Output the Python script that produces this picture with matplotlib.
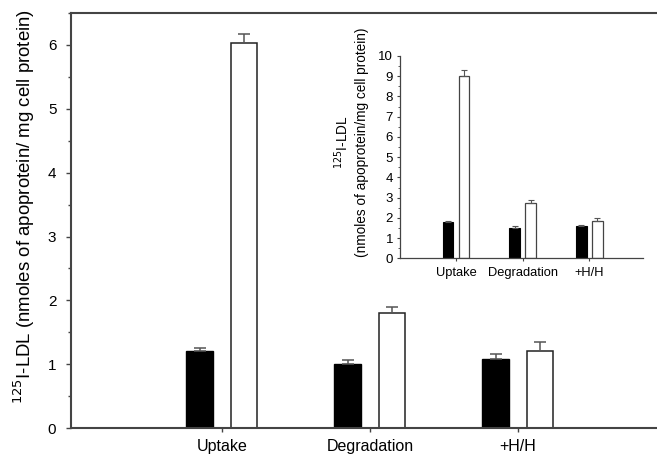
import matplotlib
matplotlib.use('Agg')
import matplotlib.pyplot as plt
import numpy as np
from matplotlib.ticker import MultipleLocator

plt.rcParams['font.family'] = ['Liberation Sans', 'DejaVu Sans']

categories = ['Uptake', 'Degradation', '+H/H']

# main panel
main_black = [1.20, 1.01, 1.08]
main_black_err = [0.05, 0.05, 0.08]
main_white = [6.03, 1.80, 1.20]
main_white_err = [0.15, 0.09, 0.15]

# inset panel
inset_black = [1.81, 1.49, 1.60]
inset_black_err = [0.04, 0.10, 0.05]
inset_white = [9.00, 2.72, 1.83]
inset_white_err = [0.30, 0.17, 0.15]

spine_col = '#444444'
err_col = '#555555'

fig = plt.figure(figsize=(6.57, 4.59), dpi=100)

# ---- main axes
ax = fig.add_axes([0.108, 0.0675, 0.892, 0.904])
X = np.arange(len(categories))
w, off = 0.18, 0.15
ax.bar(X - off, main_black, w, color='black', edgecolor='black', linewidth=1)
ax.bar(X + off, main_white, w, color='white', edgecolor='#222222', linewidth=1.1)
ax.errorbar(X - off, main_black, yerr=[np.zeros(3), main_black_err], fmt='none',
            ecolor=err_col, elinewidth=1.1, capsize=4.2, capthick=1.1)
ax.errorbar(X + off, main_white, yerr=[np.zeros(3), main_white_err], fmt='none',
            ecolor=err_col, elinewidth=1.1, capsize=4.2, capthick=1.1)

ax.set_xlim(-1.02, 2.94)
ax.set_ylim(0, 6.5)
ax.set_xticks(X)
ax.set_xticklabels(categories, fontsize=11.5)
ax.yaxis.set_major_locator(MultipleLocator(1))
ax.yaxis.set_minor_locator(MultipleLocator(0.5))
ax.tick_params(axis='y', which='major', direction='out', length=3.5, width=1,
               color=spine_col, labelsize=11, pad=7)
ax.tick_params(axis='y', which='minor', direction='out', length=2.5, width=1, color=spine_col)
ax.tick_params(axis='x', direction='out', length=3, width=1, color=spine_col, pad=5)
ax.spines['right'].set_visible(False)
for s in ['left', 'top', 'bottom']:
    ax.spines[s].set_color(spine_col)
    ax.spines[s].set_linewidth(1.5)
ax.set_ylabel('$^{125}$I-LDL (nmoles of apoprotein/ mg cell protein)', fontsize=13.4)
ax.yaxis.set_label_coords(-0.058, 0.535)

# ---- inset axes
ins = fig.add_axes([0.609, 0.437, 0.37, 0.441])
w2, off2 = 0.16, 0.12
ins.bar(X - off2, inset_black, w2, color='black', edgecolor='black', linewidth=0.8)
ins.bar(X + off2, inset_white, w2, color='white', edgecolor='#444444', linewidth=0.9)
ins.errorbar(X - off2, inset_black, yerr=[np.zeros(3), inset_black_err], fmt='none',
             ecolor=err_col, elinewidth=0.8, capsize=2.2, capthick=0.8)
ins.errorbar(X + off2, inset_white, yerr=[np.zeros(3), inset_white_err], fmt='none',
             ecolor=err_col, elinewidth=0.8, capsize=2.2, capthick=0.8)
ins.set_xlim(-0.84, 2.81)
ins.set_ylim(0, 10)
ins.set_xticks(X)
ins.set_xticklabels(categories, fontsize=9.3)
ins.yaxis.set_major_locator(MultipleLocator(1))
ins.yaxis.set_minor_locator(MultipleLocator(0.5))
ins.tick_params(axis='y', which='major', direction='out', length=2, width=0.8,
                color=spine_col, labelsize=9.5, pad=3)
ins.tick_params(axis='y', which='minor', direction='out', length=1.2, width=0.6, color=spine_col)
ins.tick_params(axis='x', direction='out', length=2.5, width=0.8, color=spine_col, pad=4)
for s in ['right', 'top']:
    ins.spines[s].set_visible(False)
for s in ['left', 'bottom']:
    ins.spines[s].set_color(spine_col)
    ins.spines[s].set_linewidth(0.9)
ins.set_ylabel('$^{125}$I-LDL\n(nmoles of apoprotein/mg cell protein)', fontsize=9.8,
               linespacing=1.35)
ins.yaxis.set_label_coords(-0.13, 0.575)

fig.savefig('out.png', dpi=100)
